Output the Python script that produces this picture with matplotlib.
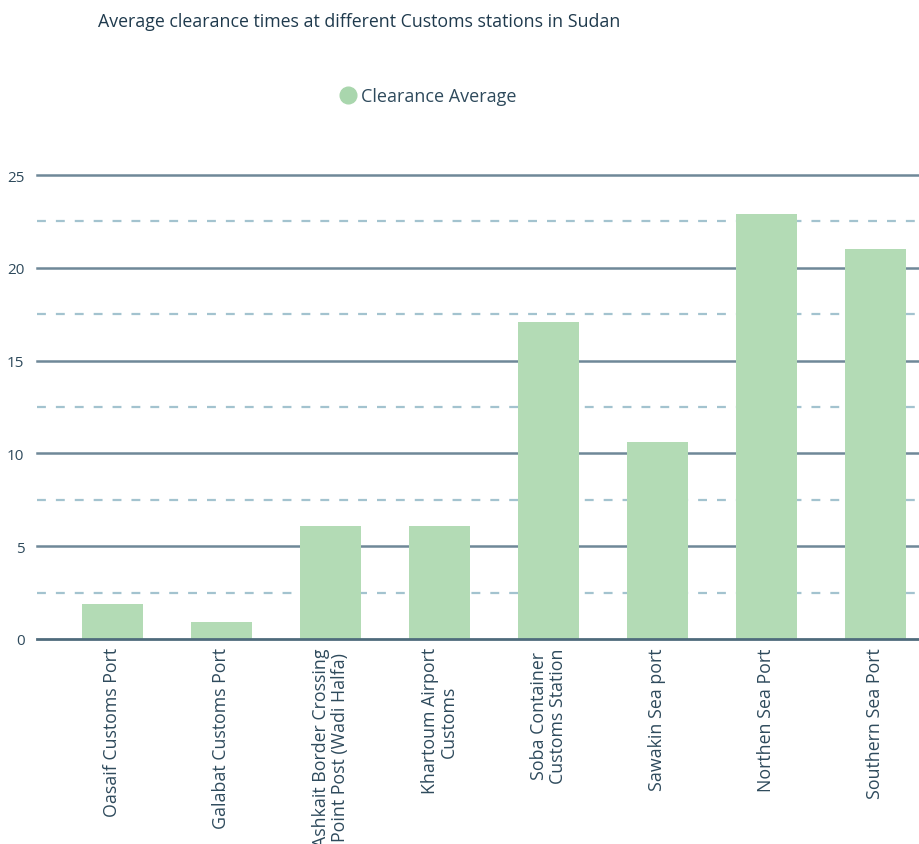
import numpy as np
import matplotlib.pyplot as plt

stations = [
    "Oasaif Customs Port",
    "Galabat Customs Port",
    "Ashkait Border Crossing\nPoint Post (Wadi Halfa)",
    "Khartoum Airport\nCustoms",
    "Soba Container\nCustoms Station",
    "Sawakin Sea port",
    "Northen Sea Port",
    "Southern Sea Port",
]
clearance_avg = [1.9, 0.9, 6.1, 6.1, 17.1, 10.6, 22.9, 21.0]
major_ticks = [0, 5, 10, 15, 20, 25]
minor_ticks = [2.5, 7.5, 12.5, 17.5, 22.5]

plt.rcParams['font.family'] = ['Open Sans', 'DejaVu Sans']

fig = plt.figure(figsize=(9.2, 8.45), dpi=100)
ax = fig.add_axes([37 / 920, 1 - 640 / 845, 1 - 37 / 920, (640 - 176) / 845])

x = np.arange(len(stations))
ax.bar(x, clearance_avg, width=0.56, color='#b3dbb5', zorder=2,
       label='Clearance Average')

# grid: solid at major ticks, dashed in between
for t in major_ticks:
    ax.axhline(t, color='#4f6b7c' if t == 0 else '#6f8898',
               linewidth=2.0 if t == 0 else 1.8, zorder=3 if t == 0 else 1,
               clip_on=False)
for t in minor_ticks:
    ax.axhline(t, color='#a3c3cf', linewidth=1.6, linestyle=(0, (4, 4.5)),
               zorder=1)

ax.set_xlim(-0.69, 7.41)
ax.set_ylim(0, 25)
ax.set_yticks(major_ticks)
ax.set_yticklabels([str(t) for t in major_ticks], fontsize=11, color='#2e4a5c')
ax.set_xticks(x)
ax.set_xticklabels(stations, rotation=90, fontsize=12.8, color='#2e4a5c',
                   va='top', ha='center', linespacing=1.05)
ax.tick_params(axis='y', length=0, pad=9)
ax.tick_params(axis='x', length=0, pad=6)
for s in ax.spines.values():
    s.set_visible(False)

fig.text(98 / 920, 1 - 22 / 845, 'Average clearance times at different Customs stations in Sudan',
         fontsize=12.8, color='#1f3a4d', va='center', ha='left')

ax.legend(handles=[plt.Line2D([], [], marker='o', linestyle='none',
                              markersize=12, color='#a9d6ad')],
          labels=['Clearance Average'], loc='center',
          bbox_to_anchor=(428 / 920, 1 - 97 / 845), bbox_transform=fig.transFigure,
          frameon=False, fontsize=13, labelcolor='#2e4a5c', handletextpad=0.2,
          handlelength=1.0)

fig.savefig('out.png', dpi=100)
